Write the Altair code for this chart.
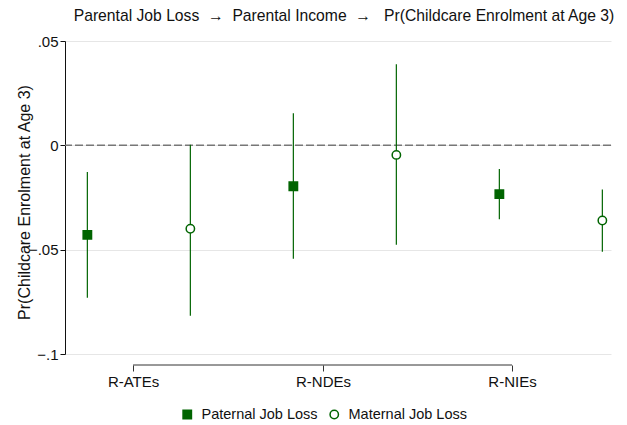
import altair as alt
import pandas as pd

# ---- data ----
series = ["Paternal Job Loss", "Maternal Job Loss"] * 3
pos = [1, 2, 3, 4, 5, 6]
est = [-0.0429, -0.0400, -0.0196, -0.0046, -0.0234, -0.0360]
lo = [-0.0730, -0.0817, -0.0544, -0.0477, -0.0354, -0.0510]
hi = [-0.0128, 0.0003, 0.0154, 0.0389, -0.0114, -0.0212]

cat_labels = ["R-ATEs", "R-NDEs", "R-NIEs"]
cat_pos = [1.444, 3.288, 5.123]
y_ticks = [-0.1, -0.05, 0, 0.05]

series_order = ["Paternal Job Loss", "Maternal Job Loss"]
GREEN = "#006400"
FONT = "Liberation Sans"
NB = "\u00a0"

df = pd.DataFrame({"series": series, "pos": pos, "est": est, "lo": lo, "hi": hi})

xscale = alt.Scale(domain=[0.783, 6.084], nice=False, zero=False)
yscale = alt.Scale(domain=[-0.1, 0.05], nice=False, zero=False)

label_expr = " : ".join(
    [f"datum.value < {p + 0.5} ? '{l}'" for p, l in zip(cat_pos[:-1], cat_labels[:-1])]
) + f" : '{cat_labels[-1]}'"

xaxis = alt.Axis(
    values=cat_pos, labelExpr=label_expr, domain=False, grid=False, offset=11,
    tickSize=6, tickColor="#333", tickWidth=1, labelPadding=3, labelFontSize=15,
    labelFont=FONT, labelColor="#111", title=None,
)
yaxis = alt.Axis(
    values=y_ticks,
    labelExpr="datum.value == 0 ? '0' : replace(format(datum.value, '.2~f'), '0.', '.')",
    domain=True, domainColor="#111", domainWidth=1, tickSize=5, tickColor="#111",
    labelPadding=2, labelFontSize=15, labelFont=FONT, labelColor="#111",
    grid=True, gridColor="#e6e6e6", gridWidth=1,
    title="Pr(Childcare Enrolment at Age 3)", titleFontSize=16, titleFont=FONT,
    titleFontWeight="normal", titleColor="#111", titleX=-33, titleY=161,
)

base = alt.Chart(df)

ci = base.mark_rule(color=GREEN, strokeWidth=1.2).encode(
    x=alt.X("pos:Q", scale=xscale, axis=xaxis),
    y=alt.Y("lo:Q", scale=yscale, axis=yaxis),
    y2="hi:Q",
)

zero = alt.Chart(pd.DataFrame({"z": [0]})).mark_rule(
    color="#777", strokeWidth=1.5, strokeDash=[8, 3]
).encode(y=alt.Y("z:Q", scale=yscale))

bracket = alt.Chart(pd.DataFrame({"a": [cat_pos[0]], "b": [cat_pos[-1]]})).mark_rule(
    color="#333", strokeWidth=1
).encode(x=alt.X("a:Q", scale=xscale), x2="b:Q", y=alt.value(324))

leg = alt.Legend(
    title=None, orient="none", legendX=115, legendY=366, direction="horizontal",
    labelFontSize=14.5, labelFont=FONT, labelColor="#111", symbolSize=70,
    symbolStrokeWidth=1.5, columnPadding=9, labelOffset=7,
)

pts = base.mark_point(size=70, strokeWidth=1.5, opacity=1).encode(
    x=alt.X("pos:Q", scale=xscale),
    y=alt.Y("est:Q", scale=yscale),
    shape=alt.Shape("series:N", sort=series_order,
                    scale=alt.Scale(domain=series_order, range=["square", "circle"]), legend=leg),
    fill=alt.Fill("series:N", sort=series_order,
                  scale=alt.Scale(domain=series_order, range=[GREEN, "white"]), legend=leg),
    stroke=alt.Stroke("series:N", sort=series_order,
                      scale=alt.Scale(domain=series_order, range=[GREEN, GREEN]), legend=leg),
)

title_text = (
    f"Parental Job Loss {NB}\u2192{NB}{NB}Parental Income {NB}\u2192{NB}{NB}{NB}"
    "Pr(Childcare Enrolment at Age 3)"
)

chart = alt.layer(zero, ci, bracket, pts).properties(
    width=546, height=313,
    title=alt.TitleParams(
        title_text, fontSize=15.7, font=FONT, fontWeight="normal", color="#111",
        offset=9, anchor="middle", dx=6,
    ),
    autosize=alt.AutoSizeParams(type="none"),
    padding={"left": 57, "top": 33, "right": 8, "bottom": 70},
    background="white",
).configure_view(stroke=None)

chart.save("out.html", embed_options={"renderer": "svg", "actions": False})
